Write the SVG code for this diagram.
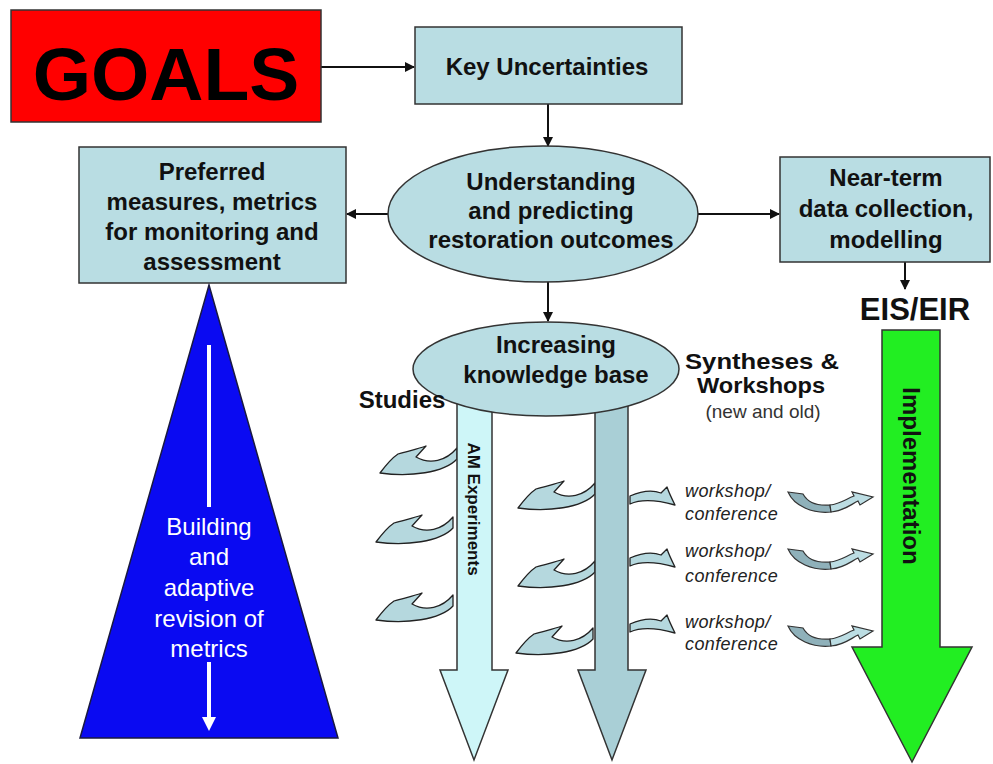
<svg xmlns="http://www.w3.org/2000/svg" width="993" height="764" viewBox="0 0 993 764">
  <style>
    .box { fill: #b9dde3; stroke: #333; stroke-width: 1.5; }
    .lbl { font-family: "Liberation Sans", Arial, sans-serif; font-weight: bold; fill: #111; text-anchor: middle; }
    .wk { font-family: "Liberation Sans", Arial, sans-serif; font-style: italic; font-size: 18px; fill: #222; letter-spacing: 0.4px; }
    .conn { stroke: #111; stroke-width: 2; fill: none; marker-end: url(#ah); }
    .sw { fill: #b5d8de; stroke: #222; stroke-width: 1.3; stroke-linejoin: round; }
  </style>
  <defs>
    <marker id="ah" viewBox="0 0 10 10" refX="9" refY="5" markerWidth="5" markerHeight="5" orient="auto" markerUnits="strokeWidth">
      <path d="M0,0 L10,5 L0,10 Z" fill="#111"/>
    </marker>
    <!-- curved swoosh arrow pointing left, tip at origin -->
    <path id="swL" class="sw" d="M0,0 C6,-8 12,-15 18,-19 C28,-22 38,-24 46,-27 L36,-16 C50,-8 66,-12 77,-25 L77,-14 C64,0 30,4 0,0 Z"/>
    <!-- small swoosh arrow pointing right, tip at origin -->
    <path id="swR" class="sw" d="M0,0 C-3,-6 -6,-12 -8,-18 L-14,-12 C-24,-16 -36,-13 -45,-9 L-45,-1 C-34,-6 -18,-5 0,0 Z"/>
    <!-- U-turn arrow -->
    <g id="uturn">
      <path d="M0,0 L15,2 C20,11 30,14 42,13 L43,20 C25,22 6,14 0,0 Z" fill="#8fb1ba" stroke="#333" stroke-width="1.2"/>
      <path d="M42,13 C52,12 58,7 66,4 L64,0 L85,5 L72,13 L70,9 C62,13 56,19 43,20 Z" fill="#bcdde3" stroke="#333" stroke-width="1.2"/>
    </g>
  </defs>

  <rect width="993" height="764" fill="#ffffff"/>

  <!-- Blue triangle: building metrics -->
  <g id="metrics-triangle">
    <polygon points="209,285 338,738 80,738" fill="#0a0af2" stroke="#1a1a40" stroke-width="1.5"/>
    <line x1="209" y1="345" x2="209" y2="507" stroke="#fff" stroke-width="4"/>
    <line x1="209" y1="662" x2="209" y2="720" stroke="#fff" stroke-width="4"/>
    <polygon points="202,717 216,717 209,731" fill="#fff"/>
    <g font-family="Liberation Sans, Arial, sans-serif" font-size="24" fill="#fff" text-anchor="middle">
      <text x="209" y="535">Building</text>
      <text x="209" y="565">and</text>
      <text x="209" y="596">adaptive</text>
      <text x="209" y="627">revision of</text>
      <text x="209" y="657">metrics</text>
    </g>
  </g>

  <!-- Swooshes (drawn beneath the shafts) -->
  <g id="studies-swooshes">
    <use href="#swL" transform="translate(380,473)"/>
    <use href="#swL" transform="translate(376,542)"/>
    <use href="#swL" transform="translate(376,620)"/>
  </g>
  <g id="synthesis-swooshes">
    <use href="#swL" transform="translate(518,508)"/>
    <use href="#swL" transform="translate(518,586)"/>
    <use href="#swL" transform="translate(516,653)"/>
    <use href="#swR" transform="translate(675,505)"/>
    <use href="#swR" transform="translate(675,567)"/>
    <use href="#swR" transform="translate(675,633)"/>
  </g>
  <g id="implementation-swooshes">
    <use href="#uturn" transform="translate(788,492)"/>
    <use href="#uturn" transform="translate(788,549)"/>
    <use href="#uturn" transform="translate(788,626)"/>
  </g>

  <!-- AM Experiments arrow -->
  <g id="am-experiments">
    <polygon points="457,380 492,380 492,670 508,670 474,760 440,670 457,670" fill="#cef6f8" stroke="#333" stroke-width="1.5"/>
    <text transform="translate(474,509) rotate(90)" y="6" class="lbl" style="font-size:17px">AM Experiments</text>
  </g>

  <!-- Syntheses arrow -->
  <g id="syntheses-arrow">
    <polygon points="595,380 628,380 628,670 646,670 612,760 578,670 595,670" fill="#a9cfd6" stroke="#333" stroke-width="1.5"/>
  </g>

  <!-- Implementation arrow -->
  <g id="implementation">
    <polygon points="882,330 940,330 940,647 972,647 912,762 852,647 882,647" fill="#22ee22" stroke="#333" stroke-width="1.5"/>
    <text transform="translate(911,476) rotate(90)" y="8" class="lbl" style="font-size:24px">Implementation</text>
  </g>

  <!-- Connectors -->
  <g id="connectors">
    <line class="conn" x1="321" y1="67" x2="414" y2="67"/>
    <line class="conn" x1="548" y1="104" x2="548" y2="146"/>
    <line class="conn" x1="389" y1="214" x2="347" y2="214"/>
    <line class="conn" x1="697" y1="214" x2="779" y2="214"/>
    <line class="conn" x1="548" y1="282" x2="548" y2="321"/>
    <line class="conn" x1="905" y1="262" x2="905" y2="289"/>
  </g>

  <!-- Nodes -->
  <g id="goals">
    <rect x="11" y="10" width="310" height="112" fill="#ff0000" stroke="#333" stroke-width="1.5"/>
    <text x="166" y="100" text-anchor="middle" font-family="Liberation Sans, Arial, sans-serif" font-weight="bold" font-size="75" fill="#000">GOALS</text>
  </g>

  <g id="key-uncertainties" font-size="24">
    <rect class="box" x="415" y="27" width="267" height="77"/>
    <text class="lbl" x="547" y="75">Key Uncertainties</text>
  </g>

  <g id="preferred-measures" font-size="24">
    <rect class="box" x="79" y="147" width="267" height="136"/>
    <text class="lbl" x="212" y="180">Preferred</text>
    <text class="lbl" x="212" y="210">measures, metrics</text>
    <text class="lbl" x="212" y="240">for monitoring and</text>
    <text class="lbl" x="212" y="270">assessment</text>
  </g>

  <g id="understanding" font-size="24">
    <ellipse class="box" cx="543" cy="214" rx="155" ry="68"/>
    <text class="lbl" x="551" y="190">Understanding</text>
    <text class="lbl" x="551" y="219">and predicting</text>
    <text class="lbl" x="551" y="248">restoration outcomes</text>
  </g>

  <g id="near-term" font-size="24">
    <rect class="box" x="780" y="157" width="210" height="105"/>
    <text class="lbl" x="886" y="186">Near-term</text>
    <text class="lbl" x="886" y="217">data collection,</text>
    <text class="lbl" x="886" y="248">modelling</text>
  </g>

  <g id="eis-eir">
    <text class="lbl" x="915" y="320" style="font-size:31px">EIS/EIR</text>
  </g>

  <g id="knowledge-base" font-size="24">
    <ellipse class="box" cx="546" cy="369" rx="133" ry="47"/>
    <text class="lbl" x="556" y="353">Increasing</text>
    <text class="lbl" x="556" y="383">knowledge base</text>
  </g>

  <g id="studies" font-size="24">
    <text class="lbl" x="402" y="408">Studies</text>
  </g>

  <g id="syntheses-workshops">
    <text class="lbl" x="762" y="369" style="font-size:22px" textLength="154" lengthAdjust="spacingAndGlyphs">Syntheses &amp;</text>
    <text class="lbl" x="761" y="393" style="font-size:22px" textLength="128" lengthAdjust="spacingAndGlyphs">Workshops</text>
    <text x="763" y="418" text-anchor="middle" font-family="Liberation Sans, Arial, sans-serif" font-size="19" fill="#333">(new and old)</text>
  </g>

  <g id="workshop-labels">
    <text class="wk" x="685" y="497">workshop/</text>
    <text class="wk" x="685" y="520">conference</text>
    <text class="wk" x="685" y="557">workshop/</text>
    <text class="wk" x="685" y="582">conference</text>
    <text class="wk" x="685" y="628">workshop/</text>
    <text class="wk" x="685" y="650">conference</text>
  </g>
</svg>
